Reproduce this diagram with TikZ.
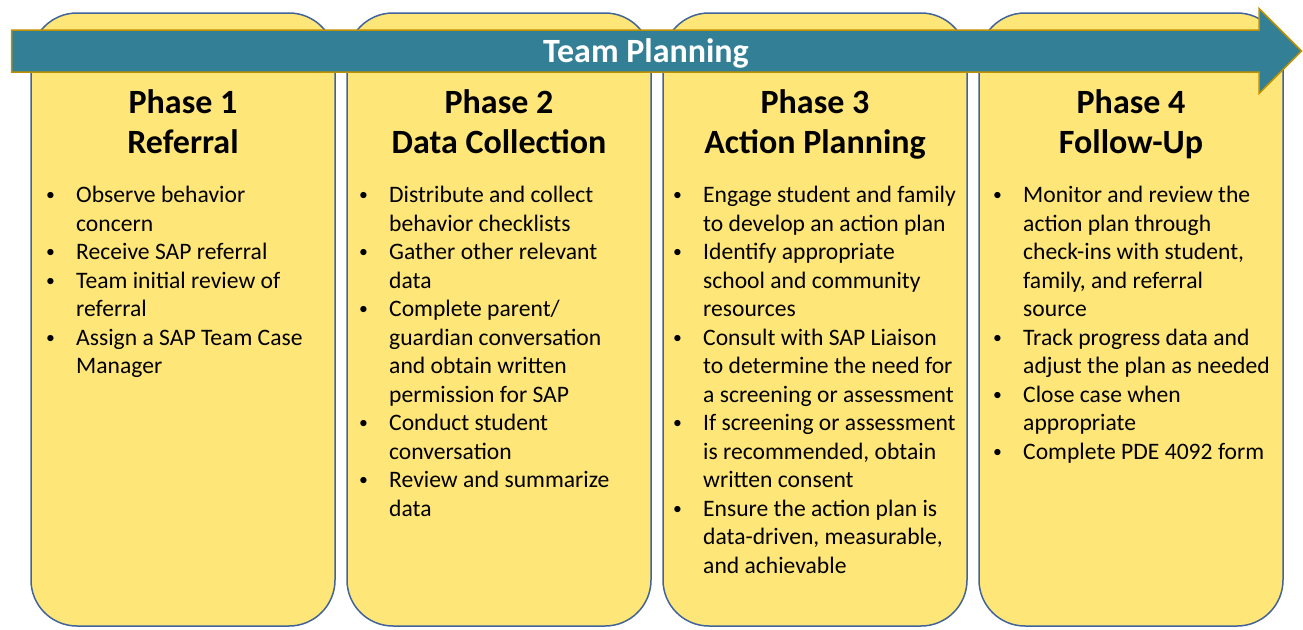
\documentclass[tikz,border=0pt]{standalone}
\usepackage{fontspec}
\setmainfont{Carlito}
\usetikzlibrary{calc}

\definecolor{boxfill}{RGB}{255,230,120}
\definecolor{boxline}{RGB}{66,100,152}
\definecolor{arrowfill}{RGB}{50,127,150}
\definecolor{arrowline}{RGB}{191,144,0}

% bullet list with fixed hanging indent
\newcommand{\phasebullet}{\raisebox{2pt}{\scalebox{0.75}{\textbullet}}}
\newcommand{\phaselist}[1]{\begin{minipage}[t]{300pt}\raggedright
\begin{list}{\phasebullet}{\setlength{\leftmargin}{30pt}\setlength{\labelwidth}{30pt}%
\setlength{\labelsep}{0pt}\setlength{\itemsep}{0pt}\setlength{\parsep}{0pt}%
\setlength{\topsep}{0pt}\renewcommand{\makelabel}[1]{##1\hfil}}
#1
\end{list}\end{minipage}}

\begin{document}
\begin{tikzpicture}[x=1pt,y=-1pt,
  phasebox/.style={draw=boxline, fill=boxfill, line width=1.5pt, rounded corners=46pt,
    minimum width=304pt, minimum height=613pt, inner sep=0pt},
  phasetitle/.style={anchor=base, inner sep=0pt, font=\bfseries\fontsize{34}{40}\selectfont},
  phasetext/.style={anchor=base west, inner sep=0pt, font=\fontsize{23.6}{28.5}\selectfont}]
\useasboundingbox (0,0) rectangle (1303,629);

% Draw the four phase boxes
  \node[phasebox] (p1) at (183,319.5) {};
  \node[phasebox] (p2) at (499,319.5) {};
  \node[phasebox] (p3) at (815,319.5) {};
  \node[phasebox] (p4) at (1131,319.5) {};

% Draw the team planning arrow across the top
  \draw[arrowline, fill=arrowfill, line width=1.5pt]
    (11.5,30) -- (1259,30) -- (1259,8.5) -- (1301.5,51) -- (1259,93.5) -- (1259,72) -- (11.5,72) -- cycle;
  \node[anchor=base, inner sep=0pt, text=white, font=\bfseries\fontsize{34}{40}\selectfont] (team) at (646,62.5) {Team Planning};

% Phase 1
  \node[phasetitle] (t1) at (p1.center |- 0,113) {Phase 1};
  \node[phasetitle] (n1) at (p1.center |- 0,153) {Referral};
  \node[phasetext] (l1) at (46,202.7) {\phaselist{
    \item Observe behavior\\concern
    \item Receive SAP referral
    \item Team initial review of\\referral
    \item Assign a SAP Team Case\\Manager}};

% Phase 2
  \node[phasetitle] (t2) at (p2.center |- 0,113) {Phase 2};
  \node[phasetitle] (n2) at (p2.center |- 0,153) {Data Collection};
  \node[phasetext] (l2) at (359,202.7) {\phaselist{
    \item Distribute and collect\\behavior checklists
    \item Gather other relevant\\data
    \item Complete parent/\\guardian conversation\\and obtain written\\permission for SAP
    \item Conduct student\\conversation
    \item Review and summarize\\data}};

% Phase 3
  \node[phasetitle] (t3) at (p3.center |- 0,113) {Phase 3};
  \node[phasetitle] (n3) at (p3.center |- 0,153) {Action Planning};
  \node[phasetext] (l3) at (673,202.7) {\phaselist{
    \item Engage student and family\\to develop an action plan
    \item Identify appropriate\\school and community\\resources
    \item Consult with SAP Liaison\\to determine the need for\\a screening or assessment
    \item If screening or assessment\\is recommended, obtain\\written consent
    \item Ensure the action plan is\\data-driven, measurable,\\and achievable}};

% Phase 4
  \node[phasetitle] (t4) at (p4.center |- 0,113) {Phase 4};
  \node[phasetitle] (n4) at (p4.center |- 0,153) {Follow-Up};
  \node[phasetext] (l4) at (993,202.7) {\phaselist{
    \item Monitor and review the\\action plan through\\check-ins with student,\\family, and referral\\source
    \item Track progress data and\\adjust the plan as needed
    \item Close case when\\appropriate
    \item Complete PDE 4092 form}};
\end{tikzpicture}
\end{document}
